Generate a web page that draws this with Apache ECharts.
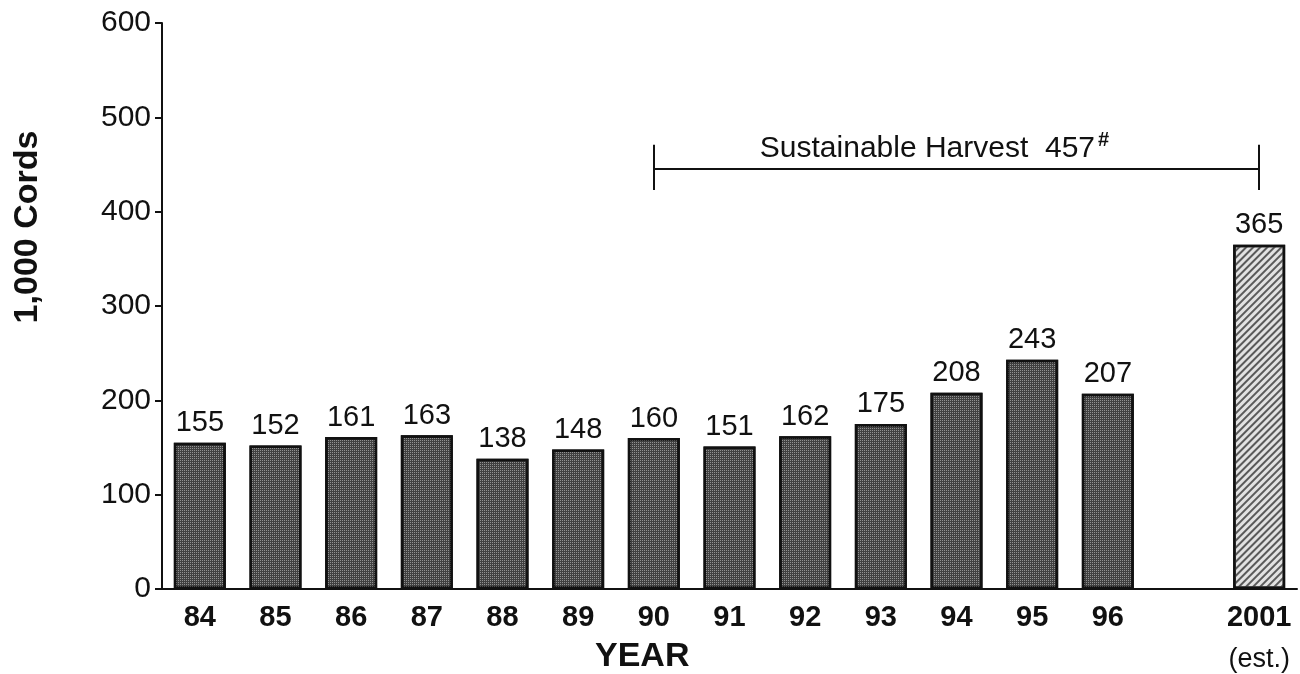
<!DOCTYPE html>
<html>
<head>
<meta charset="utf-8">
<script src="https://cdn.jsdelivr.net/npm/echarts@6/dist/echarts.min.js"></script>
<style>
  html, body { margin: 0; padding: 0; background: #fff; }
  #chart { width: 1300px; height: 674px; }
</style>
</head>
<body>
<div id="chart"></div>
<script>
// ---- data ----
const categories = ['84','85','86','87','88','89','90','91','92','93','94','95','96','','2001'];
const harvest = [155,152,161,163,138,148,160,151,162,175,208,243,207,null,365];
const yTicks = [0,100,200,300,400,500,600];
const estimateCategory = '2001';
const bracketStart = '90';
const bracketEnd = '2001';
const bracketLevel = 446;      // drawn level of the bracket line
const bracketTickLow = 423;
const bracketTickHigh = 471;
const bracketText = 'Sustainable Harvest  457';

const FONT = 'Liberation Sans, Arial, Helvetica, sans-serif';
const INK = '#111';

const normalStyle = {
  color: '#404040',
  borderColor: INK,
  borderWidth: 2.5,
  decal: {
    symbol: 'rect',
    symbolSize: 1,
    dashArrayX: [1, 1],
    dashArrayY: [1, 1],
    color: 'rgba(200,200,200,0.6)'
  }
};
const estStyle = {
  color: '#e2e2e2',
  borderColor: INK,
  borderWidth: 2.5,
  decal: {
    symbol: 'rect',
    symbolSize: 1,
    dashArrayX: [1, 0],
    dashArrayY: [1.2, 2.6],
    rotation: -Math.PI / 4,
    color: '#5a5a5a'
  }
};

const barData = harvest.map((v, i) => ({
  value: v,
  itemStyle: categories[i] === estimateCategory ? estStyle : normalStyle
}));

const chart = echarts.init(document.getElementById('chart'), null, { renderer: 'canvas' });

chart.setOption({
  backgroundColor: '#fff',
  animation: false,
  textStyle: { fontFamily: FONT, color: INK },
  grid: { left: 162, right: 3, top: 23, bottom: 85, containLabel: false, outerBoundsMode: 'none' },
  xAxis: {
    type: 'category',
    data: categories,
    axisLine: { lineStyle: { color: INK, width: 2 } },
    axisTick: { show: false },
    axisLabel: {
      interval: 0,
      margin: 12,
      fontSize: 29,
      fontWeight: 'bold',
      fontFamily: FONT,
      color: INK,
      lineHeight: 34,
      formatter: function (v) {
        if (v === estimateCategory) return '{b|' + v + '}\n{e|(est.)}';
        return v;
      },
      rich: {
        b: { fontSize: 29, fontWeight: 'bold', fontFamily: FONT, color: INK, lineHeight: 34 },
        e: { fontSize: 27, fontWeight: 'normal', fontFamily: FONT, color: INK, lineHeight: 50 }
      }
    }
  },
  yAxis: {
    type: 'value',
    min: yTicks[0],
    max: yTicks[yTicks.length - 1],
    interval: 100,
    splitLine: { show: false },
    axisLine: { show: true, lineStyle: { color: INK, width: 2 } },
    axisTick: { show: true, length: 7, lineStyle: { color: INK, width: 2 } },
    axisLabel: { fontSize: 30, fontFamily: FONT, color: INK, margin: 11 }
  },
  series: [{
    type: 'bar',
    data: barData,
    barWidth: 52,
    label: {
      show: true,
      position: 'top',
      distance: 5,
      fontSize: 29,
      fontFamily: FONT,
      color: INK
    },
    markLine: {
      silent: true,
      symbol: ['none', 'none'],
      lineStyle: { color: INK, width: 2, type: 'solid' },
      label: { show: false },
      data: [
        [
          {
            coord: [bracketStart, bracketLevel],
            label: {
              show: true,
              position: 'middle',
              distance: 2,
              padding: [0, 44, 0, 0],
              formatter: '{t|' + bracketText + '}{h|#}',
              rich: {
                t: { fontSize: 30, fontFamily: FONT, color: INK, lineHeight: 36 },
                h: { fontSize: 20, fontWeight: 'bold', fontFamily: FONT, color: INK, verticalAlign: 'top', lineHeight: 36, padding: [0, 0, 0, 3] }
              }
            }
          },
          { coord: [bracketEnd, bracketLevel] }
        ],
        [ { coord: [bracketStart, bracketTickLow] }, { coord: [bracketStart, bracketTickHigh] } ],
        [ { coord: [bracketEnd, bracketTickLow] }, { coord: [bracketEnd, bracketTickHigh] } ]
      ]
    }
  }],
  graphic: [
    {
      type: 'text',
      left: 595,
      top: 640,
      style: { text: 'YEAR', font: 'bold 34px ' + FONT, fill: INK }
    },
    {
      type: 'text',
      x: 28,
      y: 227,
      rotation: Math.PI / 2,
      style: {
        text: '1,000 Cords',
        font: 'bold 34px ' + FONT,
        fill: INK,
        align: 'center',
        verticalAlign: 'middle'
      }
    }
  ]
});
</script>
</body>
</html>
